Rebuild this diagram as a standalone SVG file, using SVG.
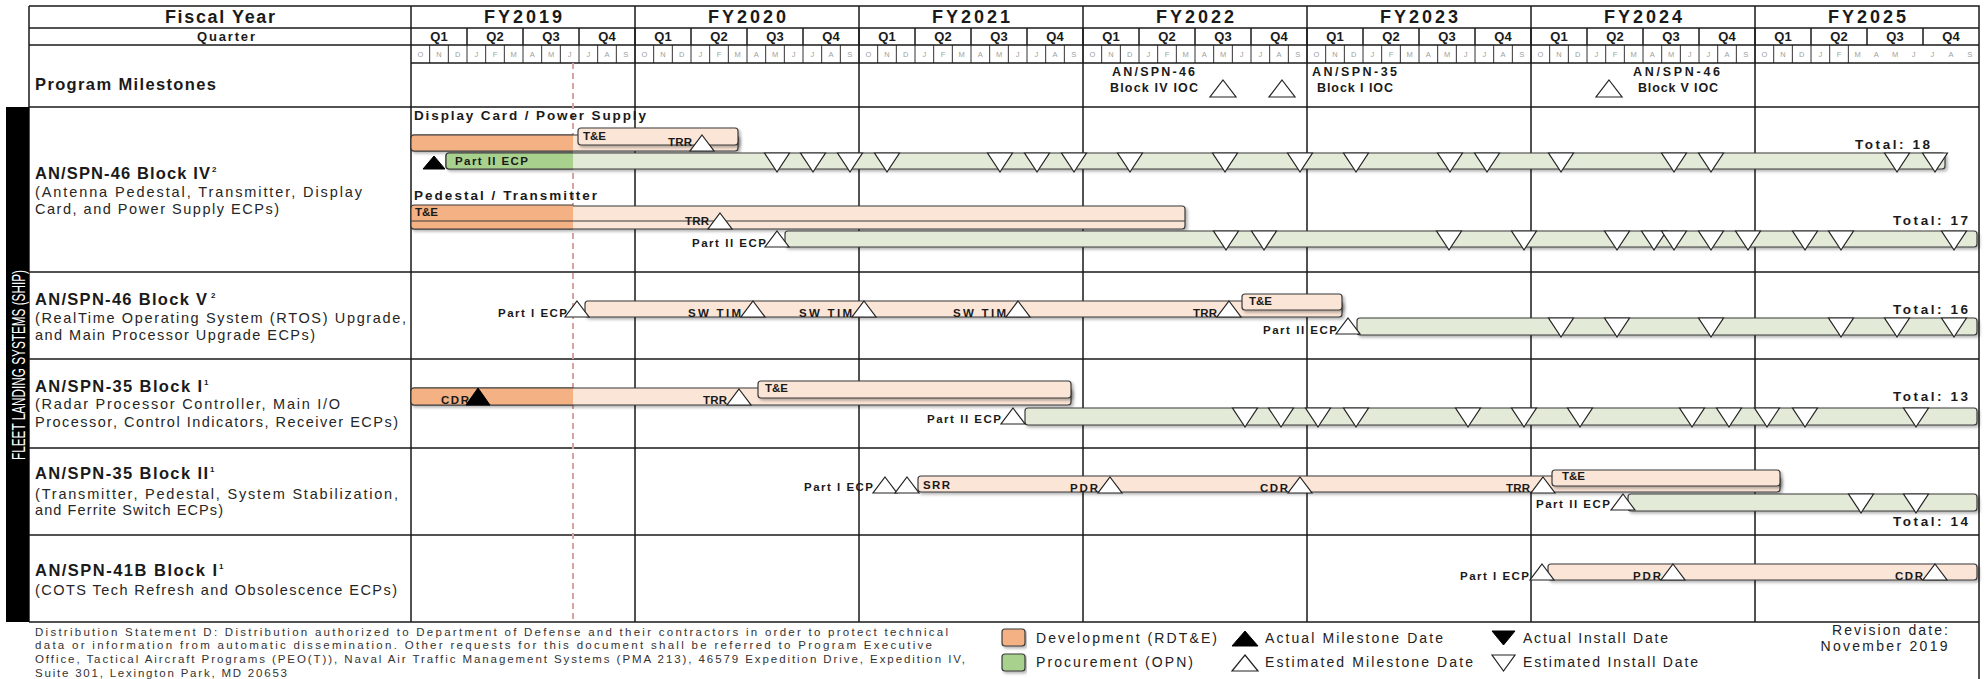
<svg xmlns="http://www.w3.org/2000/svg" width="1986" height="679" viewBox="0 0 1986 679">
<style>
text{font-family:"Liberation Sans",Arial,sans-serif;fill:#1a1a1a}
.hd{font-weight:bold;font-size:18px;text-anchor:middle}
.q{font-weight:bold;font-size:13px;text-anchor:middle}
.mo{font-size:7.5px;fill:#a0a0a0;text-anchor:middle}
.ti{font-weight:bold;font-size:16.5px}
.sup{font-weight:bold;font-size:8px}
.su{font-size:14.5px;fill:#262626}
.bl{font-weight:bold;font-size:11.5px}
.ble{font-weight:bold;font-size:11.5px;text-anchor:end}
.tot{font-weight:bold;font-size:13.5px}
.ms{font-weight:bold;font-size:12.5px}
.ft{font-size:11.5px;fill:#333}
.lg{font-size:14px;fill:#222}
.grid{fill:none;stroke:#1a1a1a;stroke-width:1.5}
.thin{fill:none;stroke:#333;stroke-width:1}
.dev{fill:#f4b183;stroke:#3a3a3a;stroke-width:1.2}
.pch{fill:#fbe5d6;stroke:#3a3a3a;stroke-width:1.2}
.prc{fill:#a9d18e;stroke:#3a3a3a;stroke-width:1.2}
.lgr{fill:#e3ead7;stroke:#3a3a3a;stroke-width:1.2}
.sh{filter:url(#sh)}
.tri{fill:#fff;stroke:#222;stroke-width:1.2}
.blk{fill:#000;stroke:#000;stroke-width:1}
</style>
<defs>
<filter id="sh" x="-5%" y="-40%" width="112%" height="200%"><feDropShadow dx="2" dy="2" stdDeviation="1.5" flood-color="#000" flood-opacity="0.3"/></filter>
<path id="emu" d="M0 0L12 16H-12Z" fill="#fff" stroke="#222" stroke-width="1.2"/>
<path id="eid" d="M-12.5 0H12.5L0 19Z" fill="#fff" stroke="#222" stroke-width="1.2"/>
</defs>
<rect width="1986" height="679" fill="#fff"/>

<g id="gridlines">
<path class="thin" d="M429.667 45v18m18.667-18v18m18.667-18v18m18.667-18v18m18.667-18v18m18.667-18v18m18.667-18v18m18.667-18v18m18.667-18v18m18.667-18v18m18.667-18v18m18.667-18v18m18.667-18v18m18.667-18v18m18.667-18v18m18.667-18v18m18.667-18v18m18.667-18v18m18.667-18v18m18.667-18v18m18.667-18v18m18.667-18v18m18.667-18v18m18.667-18v18m18.667-18v18m18.667-18v18m18.667-18v18m18.667-18v18m18.667-18v18m18.667-18v18m18.667-18v18m18.667-18v18m18.667-18v18m18.667-18v18m18.667-18v18m18.667-18v18m18.667-18v18m18.667-18v18m18.667-18v18m18.667-18v18m18.667-18v18m18.667-18v18m18.667-18v18m18.667-18v18m18.667-18v18m18.667-18v18m18.667-18v18m18.667-18v18m18.667-18v18m18.667-18v18m18.667-18v18m18.667-18v18m18.667-18v18m18.667-18v18m18.667-18v18m18.667-18v18m18.667-18v18m18.667-18v18m18.667-18v18m18.667-18v18m18.667-18v18m18.667-18v18m18.667-18v18m18.667-18v18m18.667-18v18m18.667-18v18m18.667-18v18m18.667-18v18m18.667-18v18m18.667-18v18m18.667-18v18m18.667-18v18m18.667-18v18m18.667-18v18m18.667-18v18m18.667-18v18m18.667-18v18"/>
<path class="grid" stroke-width="1.3" d="M467 28v17m56-17v17m56-17v17m56-17v17m56-17v17m56-17v17m56-17v17m56-17v17m56-17v17m56-17v17m56-17v17m56-17v17m56-17v17m56-17v17m56-17v17m56-17v17m56-17v17m56-17v17m56-17v17m56-17v17m56-17v17m56-17v17m56-17v17m56-17v17m56-17v17m56-17v17m56-17v17"/>
<path class="grid" d="M29 6H1979V679M29 6V622M29 28H1979M29 45H1979M411 63H1979M29 107H1979M29 272H1979M29 359H1979M29 448H1979M29 535H1979M29 622H1979M411 6V622M635 6V622M859 6V622M1083 6V622M1307 6V622M1531 6V622M1755 6V622"/>
<path d="M573 63V622" stroke="#d9a3a3" stroke-width="2" stroke-dasharray="6 4" fill="none"/>
</g>

<g id="header">
<text class="hd" x="220" y="23" textLength="110">Fiscal Year</text>
<text class="q" x="226" y="41" font-size="14" textLength="58">Quarter</text>
<text class="hd" x="523" y="23" textLength="78">FY2019</text>
<text class="hd" x="747" y="23" textLength="78">FY2020</text>
<text class="hd" x="971" y="23" textLength="78">FY2021</text>
<text class="hd" x="1195" y="23" textLength="78">FY2022</text>
<text class="hd" x="1419" y="23" textLength="78">FY2023</text>
<text class="hd" x="1643" y="23" textLength="78">FY2024</text>
<text class="hd" x="1867" y="23" textLength="78">FY2025</text>
<text class="q" y="41"><tspan x="439">Q1</tspan><tspan x="495">Q2</tspan><tspan x="551">Q3</tspan><tspan x="607">Q4</tspan><tspan x="663">Q1</tspan><tspan x="719">Q2</tspan><tspan x="775">Q3</tspan><tspan x="831">Q4</tspan><tspan x="887">Q1</tspan><tspan x="943">Q2</tspan><tspan x="999">Q3</tspan><tspan x="1055">Q4</tspan><tspan x="1111">Q1</tspan><tspan x="1167">Q2</tspan><tspan x="1223">Q3</tspan><tspan x="1279">Q4</tspan><tspan x="1335">Q1</tspan><tspan x="1391">Q2</tspan><tspan x="1447">Q3</tspan><tspan x="1503">Q4</tspan><tspan x="1559">Q1</tspan><tspan x="1615">Q2</tspan><tspan x="1671">Q3</tspan><tspan x="1727">Q4</tspan><tspan x="1783">Q1</tspan><tspan x="1839">Q2</tspan><tspan x="1895">Q3</tspan><tspan x="1951">Q4</tspan></text>
<text class="mo" y="57" x="420.3 439 457.7 476.3 495 513.7 532.3 551 569.7 588.3 607 625.7">ONDJFMAMJJAS</text>
<text class="mo" y="57" x="644.3 663 681.7 700.3 719 737.7 756.3 775 793.7 812.3 831 849.7">ONDJFMAMJJAS</text>
<text class="mo" y="57" x="868.3 887 905.7 924.3 943 961.7 980.3 999 1017.7 1036.3 1055 1073.7">ONDJFMAMJJAS</text>
<text class="mo" y="57" x="1092.3 1111 1129.7 1148.3 1167 1185.7 1204.3 1223 1241.7 1260.3 1279 1297.7">ONDJFMAMJJAS</text>
<text class="mo" y="57" x="1316.3 1335 1353.7 1372.3 1391 1409.7 1428.3 1447 1465.7 1484.3 1503 1521.7">ONDJFMAMJJAS</text>
<text class="mo" y="57" x="1540.3 1559 1577.7 1596.3 1615 1633.7 1652.3 1671 1689.7 1708.3 1727 1745.7">ONDJFMAMJJAS</text>
<text class="mo" y="57" x="1764.3 1783 1801.7 1820.3 1839 1857.7 1876.3 1895 1913.7 1932.3 1951 1969.7">ONDJFMAMJJAS</text>
</g>

<g id="band">
<rect x="6" y="107" width="23" height="515" fill="#000"/>
<text transform="translate(25 365) rotate(-90)" text-anchor="middle" font-family="Liberation Sans Narrow, Liberation Sans, sans-serif" font-size="19" textLength="190" lengthAdjust="spacingAndGlyphs" style="fill:#fff">FLEET LANDING SYSTEMS (SHIP)</text>
</g>

<g id="program-milestones">
<text class="ti" x="35" y="90" font-size="15.5" textLength="181">Program Milestones</text>
<text class="ms" x="1112" y="76" textLength="83">AN/SPN-46</text>
<text class="ms" x="1110" y="92" textLength="88">Block IV IOC</text>
<polygon class="tri" points="1223,80 1236,97 1210,97"/>
<polygon class="tri" points="1282,80 1295,97 1269,97"/>
<text class="ms" x="1312" y="76" textLength="85">AN/SPN-35</text>
<text class="ms" x="1317" y="92" textLength="76">Block I IOC</text>
<polygon class="tri" points="1609,80 1622,97 1596,97"/>
<text class="ms" x="1633" y="76" textLength="87">AN/SPN-46</text>
<text class="ms" x="1638" y="92" textLength="80">Block V IOC</text>
</g>

<g id="spn46-block4">
<text class="ti" x="35" y="179" textLength="175">AN/SPN-46 Block IV</text>
<text class="sup" x="212" y="172">2</text>
<text class="su" x="35" y="197" textLength="327">(Antenna Pedestal, Transmitter, Display</text>
<text class="su" x="35" y="214" textLength="244">Card, and Power Supply ECPs)</text>
<text class="tot" x="414" y="120" textLength="232">Display Card / Power Supply</text>
<rect class="pch sh" x="411" y="135" width="327" height="16" rx="3"/>
<path class="dev" d="M573 135H414q-3 0-3 3v10q0 3 3 3H573"/>
<rect class="pch sh" x="578" y="128" width="160" height="17" rx="3"/>
<text class="bl" x="583" y="140">T&amp;E</text>
<use href="#emu" x="702" y="135"/>
<text class="ble" x="692" y="146" textLength="24">TRR</text>
<polygon class="blk" points="434,156 445,169 423,169"/>
<rect class="lgr sh" x="446" y="153" width="1499" height="16" rx="3"/>
<path class="prc" d="M573 153H449q-3 0-3 3v10q0 3 3 3H573"/>
<text class="bl" x="455" y="165" textLength="73">Part II ECP</text>
<use href="#eid" x="777" y="153"/><use href="#eid" x="813" y="153"/><use href="#eid" x="850" y="153"/><use href="#eid" x="887" y="153"/><use href="#eid" x="1000" y="153"/><use href="#eid" x="1037" y="153"/><use href="#eid" x="1074" y="153"/><use href="#eid" x="1130" y="153"/><use href="#eid" x="1225" y="153"/><use href="#eid" x="1300" y="153"/><use href="#eid" x="1356" y="153"/><use href="#eid" x="1450" y="153"/><use href="#eid" x="1487" y="153"/><use href="#eid" x="1561" y="153"/><use href="#eid" x="1674" y="153"/><use href="#eid" x="1711" y="153"/><use href="#eid" x="1897" y="153"/><use href="#eid" x="1935" y="153"/>
<text class="tot" x="1855" y="149" textLength="75">Total: 18</text>
<text class="tot" x="414" y="200" textLength="183">Pedestal / Transmitter</text>
<rect class="pch sh" x="411" y="206" width="774" height="23" rx="3"/>
<path class="dev" d="M573 205H414q-3 0-3 3v18q0 3 3 3H573"/>
<path d="M411 221H1185" stroke="#3a3a3a" stroke-width="1.2"/>
<text class="bl" x="415" y="216">T&amp;E</text>
<use href="#emu" x="720" y="213"/>
<text class="ble" x="709" y="225" textLength="24">TRR</text>
<rect class="lgr sh" x="785" y="231" width="1192" height="16" rx="3"/>
<use href="#emu" x="777" y="231"/>
<text class="ble" x="766" y="247" textLength="74">Part II ECP</text>
<use href="#eid" x="1226" y="231"/><use href="#eid" x="1264" y="231"/><use href="#eid" x="1449" y="231"/><use href="#eid" x="1524" y="231"/><use href="#eid" x="1617" y="231"/><use href="#eid" x="1654" y="231"/><use href="#eid" x="1674" y="231"/><use href="#eid" x="1711" y="231"/><use href="#eid" x="1748" y="231"/><use href="#eid" x="1805" y="231"/><use href="#eid" x="1841" y="231"/><use href="#eid" x="1954" y="231"/>
<text class="tot" x="1893" y="225" textLength="75">Total: 17</text>
</g>

<g id="spn46-block5">
<text class="ti" x="35" y="305" textLength="172">AN/SPN-46 Block V</text>
<text class="sup" x="211" y="298">2</text>
<text class="su" x="35" y="323" textLength="371">(RealTime Operating System (RTOS) Upgrade,</text>
<text class="su" x="35" y="340" textLength="280">and Main Processor Upgrade ECPs)</text>
<rect class="pch sh" x="585" y="301" width="757" height="16" rx="3"/>
<rect class="pch sh" x="1242" y="294" width="100" height="16" rx="3"/>
<text class="bl" x="1249" y="305">T&amp;E</text>
<use href="#emu" x="577" y="301"/>
<text class="ble" x="567" y="317" textLength="69">Part I ECP</text>
<use href="#emu" x="753" y="301"/><use href="#emu" x="864" y="301"/><use href="#emu" x="1018" y="301"/><use href="#emu" x="1229" y="301"/>
<text class="ble" x="741" y="317" textLength="53">SW TIM</text>
<text class="ble" x="852" y="317" textLength="53">SW TIM</text>
<text class="ble" x="1006" y="317" textLength="53">SW TIM</text>
<text class="ble" x="1217" y="317" textLength="24">TRR</text>
<rect class="lgr sh" x="1357" y="318" width="620" height="17" rx="3"/>
<use href="#emu" x="1348" y="318"/>
<text class="ble" x="1337" y="334" textLength="74">Part II ECP</text>
<use href="#eid" x="1561" y="318"/><use href="#eid" x="1617" y="318"/><use href="#eid" x="1711" y="318"/><use href="#eid" x="1841" y="318"/><use href="#eid" x="1897" y="318"/><use href="#eid" x="1954" y="318"/>
<text class="tot" x="1893" y="314" textLength="75">Total: 16</text>
</g>

<g id="spn35-block1">
<text class="ti" x="35" y="392" textLength="167">AN/SPN-35 Block I</text>
<text class="sup" x="204" y="385">1</text>
<text class="su" x="35" y="409" textLength="305">(Radar Processor Controller, Main I/O</text>
<text class="su" x="35" y="427" textLength="363">Processor, Control Indicators, Receiver ECPs)</text>
<rect class="pch sh" x="411" y="388" width="660" height="17" rx="3"/>
<path class="dev" d="M573 388H414q-3 0-3 3v11q0 3 3 3H573"/>
<rect class="pch sh" x="758" y="381" width="313" height="17" rx="3"/>
<text class="bl" x="765" y="392">T&amp;E</text>
<text class="ble" x="469" y="404" textLength="28">CDR</text>
<polygon class="blk" points="478,388 490,405 466,405"/>
<use href="#emu" x="739" y="389"/>
<text class="ble" x="727" y="404" textLength="24">TRR</text>
<rect class="lgr sh" x="1025" y="408" width="952" height="17" rx="3"/>
<use href="#emu" x="1013" y="408"/>
<text class="ble" x="1001" y="423" textLength="74">Part II ECP</text>
<use href="#eid" x="1245" y="408"/><use href="#eid" x="1281" y="408"/><use href="#eid" x="1318" y="408"/><use href="#eid" x="1356" y="408"/><use href="#eid" x="1468" y="408"/><use href="#eid" x="1524" y="408"/><use href="#eid" x="1580" y="408"/><use href="#eid" x="1692" y="408"/><use href="#eid" x="1729" y="408"/><use href="#eid" x="1767" y="408"/><use href="#eid" x="1805" y="408"/><use href="#eid" x="1916" y="408"/>
<text class="tot" x="1893" y="401" textLength="75">Total: 13</text>
</g>

<g id="spn35-block2">
<text class="ti" x="35" y="479" textLength="173">AN/SPN-35 Block II</text>
<text class="sup" x="210" y="472">1</text>
<text class="su" x="35" y="499" textLength="363">(Transmitter, Pedestal, System Stabilization,</text>
<text class="su" x="35" y="515" textLength="188">and Ferrite Switch ECPs)</text>
<rect class="pch sh" x="918" y="476" width="862" height="16" rx="3"/>
<rect class="pch sh" x="1552" y="470" width="228" height="16" rx="3"/>
<text class="bl" x="1562" y="480">T&amp;E</text>
<use href="#emu" x="885" y="477"/><use href="#emu" x="907" y="477"/>
<text class="ble" x="873" y="491" textLength="69">Part I ECP</text>
<text class="bl" x="923" y="489" textLength="27">SRR</text>
<use href="#emu" x="1110" y="477"/><use href="#emu" x="1300" y="477"/><use href="#emu" x="1543" y="477"/>
<text class="ble" x="1098" y="492" textLength="28">PDR</text>
<text class="ble" x="1288" y="492" textLength="28">CDR</text>
<text class="ble" x="1530" y="492" textLength="24">TRR</text>
<rect class="lgr sh" x="1628" y="494" width="349" height="17" rx="3"/>
<use href="#emu" x="1623" y="494"/>
<text class="ble" x="1610" y="508" textLength="74">Part II ECP</text>
<use href="#eid" x="1861" y="494"/><use href="#eid" x="1916" y="494"/>
<text class="tot" x="1893" y="526" textLength="75">Total: 14</text>
</g>

<g id="spn41b-block1">
<text class="ti" x="35" y="576" textLength="182">AN/SPN-41B Block I</text>
<text class="sup" x="219" y="569">1</text>
<text class="su" x="35" y="595" textLength="362">(COTS Tech Refresh and Obsolescence ECPs)</text>
<rect class="pch sh" x="1548" y="564" width="429" height="16" rx="3"/>
<use href="#emu" x="1542" y="564"/>
<text class="ble" x="1529" y="580" textLength="69">Part I ECP</text>
<use href="#emu" x="1673" y="564"/><use href="#emu" x="1935" y="564"/>
<text class="ble" x="1661" y="580" textLength="28">PDR</text>
<text class="ble" x="1923" y="580" textLength="28">CDR</text>
</g>

<g id="footer">
<text class="ft" x="35" y="636" textLength="913">Distribution Statement D: Distribution authorized to Department of Defense and their contractors in order to protect technical</text>
<text class="ft" x="35" y="649" textLength="897">data or information from automatic dissemination. Other requests for this document shall be referred to Program Executive</text>
<text class="ft" x="35" y="663" textLength="930">Office, Tactical Aircraft Programs (PEO(T)), Naval Air Traffic Management Systems (PMA 213), 46579 Expedition Drive, Expedition IV,</text>
<text class="ft" x="35" y="677" textLength="252">Suite 301, Lexington Park, MD 20653</text>
</g>

<g id="legend">
<rect class="dev sh" x="1002" y="629" width="23" height="17" rx="3"/>
<text class="lg" x="1036" y="643" textLength="181">Development (RDT&amp;E)</text>
<rect class="prc sh" x="1002" y="654" width="23" height="17" rx="3"/>
<text class="lg" x="1036" y="667" textLength="157">Procurement (OPN)</text>
<polygon class="blk" points="1245,631 1258,646 1232,646"/>
<text class="lg" x="1265" y="643" textLength="178">Actual Milestone Date</text>
<polygon class="tri" points="1245,655 1258,671 1232,671"/>
<text class="lg" x="1265" y="667" textLength="208">Estimated Milestone Date</text>
<polygon class="blk" points="1492,631 1515,631 1503.5,645"/>
<text class="lg" x="1523" y="643" textLength="145">Actual Install Date</text>
<polygon class="tri" points="1492,655 1515,655 1503.5,671"/>
<text class="lg" x="1523" y="667" textLength="175">Estimated Install Date</text>
<text class="lg" x="1890" y="635" text-anchor="middle" textLength="116">Revision date:</text>
<text class="lg" x="1884" y="651" text-anchor="middle" textLength="127">November 2019</text>
</g>
</svg>
